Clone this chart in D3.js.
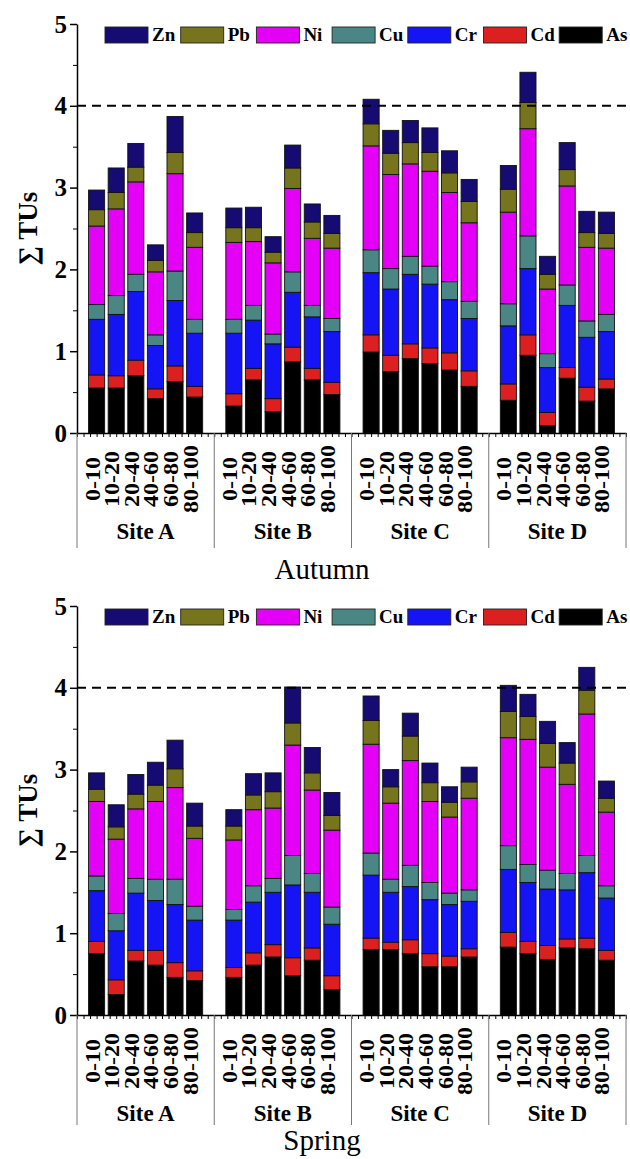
<!DOCTYPE html>
<html>
<head>
<meta charset="utf-8">
<script src="https://cdn.jsdelivr.net/npm/d3@7"></script>
<style>
  body { margin: 0; background: #fff; }
  text { font-family: "Liberation Serif", "Times New Roman", serif; }
</style>
</head>
<body>
<div id="chart"></div>
<script>
const sites = ['Site A', 'Site B', 'Site C', 'Site D'];
const depths = ['0-10', '10-20', '20-40', '40-60', '60-80', '80-100'];
const metals = ['As', 'Cd', 'Cr', 'Cu', 'Ni', 'Pb', 'Zn'];   // bottom -> top
const legendOrder = ['Zn', 'Pb', 'Ni', 'Cu', 'Cr', 'Cd', 'As'];
const yTicks = [0, 1, 2, 3, 4, 5];
const yMinorTicks = [0.5, 1.5, 2.5, 3.5, 4.5];
const limitLine = 4;

// Autumn, 24 bars: Site A..D x depths
const autumnAs = [.55, .55, .70, .42, .63, .44, .33, .65, .26, .87, .65, .47, .99, .75, .91, .85, .77, .57, .40, .95, .09, .67, .39, .54];
const autumnCd = [.16, .15, .19, .12, .19, .13, .15, .14, .16, .18, .14, .15, .21, .20, .18, .19, .21, .19, .20, .25, .16, .13, .17, .12];
const autumnCr = [.68, .75, .84, .53, .80, .65, .74, .59, .67, .67, .63, .62, .76, .81, .85, .78, .65, .64, .71, .81, .55, .76, .61, .58];
const autumnCu = [.18, .23, .21, .13, .36, .17, .17, .18, .12, .25, .14, .16, .28, .25, .22, .22, .22, .21, .27, .40, .17, .25, .20, .21];
const autumnNi = [.96, 1.06, 1.13, .77, 1.19, .88, .94, .78, .87, 1.02, .82, .86, 1.27, 1.15, 1.13, 1.16, 1.09, .96, 1.12, 1.31, .79, 1.21, .90, .81];
const autumnPb = [.20, .20, .18, .14, .26, .18, .18, .17, .13, .25, .20, .18, .27, .26, .26, .23, .24, .26, .28, .32, .18, .20, .18, .18];
const autumnZn = [.24, .30, .29, .19, .44, .24, .24, .25, .19, .28, .22, .22, .30, .28, .27, .30, .27, .27, .29, .37, .22, .33, .26, .26];

// Spring
const springAs = [.75, .25, .66, .61, .46, .42, .46, .61, .71, .48, .67, .31, .80, .80, .75, .59, .59, .71, .83, .75, .68, .82, .81, .67];
const springCd = [.15, .18, .13, .18, .18, .12, .12, .15, .15, .22, .15, .17, .14, .09, .17, .16, .13, .10, .18, .15, .17, .11, .13, .12];
const springCr = [.62, .60, .70, .61, .71, .62, .58, .62, .64, .89, .68, .63, .77, .61, .65, .66, .63, .58, .77, .72, .69, .60, .80, .64];
const springCu = [.18, .21, .18, .26, .31, .17, .13, .20, .17, .36, .23, .21, .27, .16, .26, .21, .14, .14, .29, .22, .23, .20, .21, .15];
const springNi = [.91, .91, .85, .95, 1.12, .83, .85, .93, .86, 1.35, 1.02, .94, 1.33, .93, 1.28, .99, .93, 1.12, 1.32, 1.53, 1.26, 1.09, 1.73, .90];
const springPb = [.15, .15, .18, .20, .23, .15, .17, .18, .20, .27, .21, .18, .29, .20, .30, .23, .18, .20, .32, .28, .29, .26, .29, .17];
const springZn = [.20, .27, .24, .28, .35, .28, .20, .26, .23, .44, .31, .28, .30, .21, .28, .24, .19, .18, .32, .27, .27, .25, .28, .21];

const colors = {
  As: '#000000',
  Cd: '#dc1f1f',
  Cr: '#1414f5',
  Cu: '#4a8784',
  Ni: '#e400f6',
  Pb: '#76741c',
  Zn: '#150b72'
};

const panels = [
  { season: 'Autumn', top: 24, seasonY: 146, dividerLen: 115, values: { As: autumnAs, Cd: autumnCd, Cr: autumnCr, Cu: autumnCu, Ni: autumnNi, Pb: autumnPb, Zn: autumnZn } },
  { season: 'Spring', top: 606, seasonY: 135, dividerLen: 110, values: { As: springAs, Cd: springCd, Cr: springCr, Cu: springCu, Ni: springNi, Pb: springPb, Zn: springZn } }
];

const W = 630, H = 1159;
const plotH = 409;

const svg = d3.select('#chart').append('svg')
  .attr('width', W)
  .attr('height', H);

const x = d3.scaleLinear().domain([0, 28]).range([77, 626]);
const y = d3.scaleLinear().domain([0, 5]).range([plotH, 0]);
const barW = (x(1) - x(0)) * 0.82;

panels.forEach(panel => {
  const g = svg.append('g').attr('transform', `translate(0,${panel.top})`);

  // one row per bar, slot leaves a gap between sites
  const rows = d3.range(sites.length * depths.length).map(i => {
    const row = { slot: Math.floor(i / 6) * 7 + (i % 6) + 1, depth: depths[i % 6] };
    metals.forEach(m => { row[m] = panel.values[m][i]; });
    return row;
  });

  const series = d3.stack().keys(metals)(rows);

  g.selectAll('g.layer')
    .data(series)
    .join('g')
    .attr('class', 'layer')
    .attr('fill', d => colors[d.key])
    .selectAll('rect')
    .data(d => d)
    .join('rect')
    .attr('x', d => x(d.data.slot) - barW / 2)
    .attr('y', d => y(d[1]))
    .attr('width', barW)
    .attr('height', d => y(d[0]) - y(d[1]))
    .attr('stroke', '#111')
    .attr('stroke-width', 0.9);

  // dashed threshold
  g.append('line')
    .attr('x1', x(0)).attr('x2', x(28))
    .attr('y1', y(limitLine)).attr('y2', y(limitLine))
    .attr('stroke', '#000')
    .attr('stroke-width', 2)
    .attr('stroke-dasharray', '9,6');

  // x axis with dense ticks
  const xAxis = g.append('g')
    .attr('transform', `translate(0,${plotH})`)
    .call(d3.axisBottom(x)
      .tickValues(d3.range(0, 84 + 1).map(k => k / 3))
      .tickSize(4)
      .tickSizeOuter(0)
      .tickFormat(''));
  xAxis.select('.domain').attr('stroke-width', 1.5);

  // y axis
  const yAxis = g.append('g')
    .attr('transform', `translate(${x(0)},0)`)
    .call(d3.axisLeft(y).tickValues(yTicks).tickSize(7).tickSizeOuter(0).tickPadding(3).tickFormat(d3.format('d')));
  yAxis.select('.domain').attr('stroke-width', 1.5);
  yAxis.selectAll('line').attr('stroke-width', 1.5);
  yAxis.selectAll('text')
    .style('font-size', '25px')
    .style('font-weight', 'bold')
    .attr('fill', '#000');

  g.append('g')
    .attr('transform', `translate(${x(0)},0)`)
    .call(d3.axisLeft(y).tickValues(yMinorTicks).tickSize(4).tickFormat(''))
    .call(a => a.select('.domain').remove());

  // y title
  g.append('text')
    .attr('transform', `translate(37,${plotH / 2}) rotate(-90)`)
    .attr('text-anchor', 'middle')
    .style('font-size', '27px')
    .style('font-weight', 'bold')
    .text('∑ TUs');

  // depth labels
  g.selectAll('text.depth')
    .data(rows)
    .join('text')
    .attr('class', 'depth')
    .attr('transform', d => `translate(${x(d.slot)},${plotH + 46}) rotate(-90) scale(1.2,1)`)
    .attr('text-anchor', 'middle')
    .attr('dy', '0.15em')
    .style('font-size', '20px')
    .style('font-weight', 'bold')
    .text(d => d.depth);

  // site dividers
  d3.range(sites.length + 1).forEach(k => {
    g.append('line')
      .attr('x1', x(k * 7)).attr('x2', x(k * 7))
      .attr('y1', plotH).attr('y2', plotH + panel.dividerLen)
      .attr('stroke', '#777')
      .attr('stroke-width', 1);
  });

  g.selectAll('text.site')
    .data(sites)
    .join('text')
    .attr('class', 'site')
    .attr('x', (d, k) => x(k * 7 + 3.5))
    .attr('y', plotH + 106)
    .attr('text-anchor', 'middle')
    .style('font-size', '23px')
    .style('font-weight', 'bold')
    .text(d => d);

  g.append('text')
    .attr('x', 322)
    .attr('y', plotH + panel.seasonY)
    .attr('text-anchor', 'middle')
    .style('font-size', '29px')
    .text(panel.season);

  // legend
  const legend = g.append('g').attr('transform', 'translate(105,3)');
  legendOrder.forEach((m, i) => {
    const item = legend.append('g').attr('transform', `translate(${i * 75.7},0)`);
    item.append('rect')
      .attr('width', 43).attr('height', 16)
      .attr('fill', colors[m])
      .attr('stroke', '#222')
      .attr('stroke-width', 0.9);
    item.append('text')
      .attr('x', 47).attr('y', 14)
      .style('font-size', '19px')
      .style('font-weight', 'bold')
      .text(m);
  });
});
</script>
</body>
</html>
